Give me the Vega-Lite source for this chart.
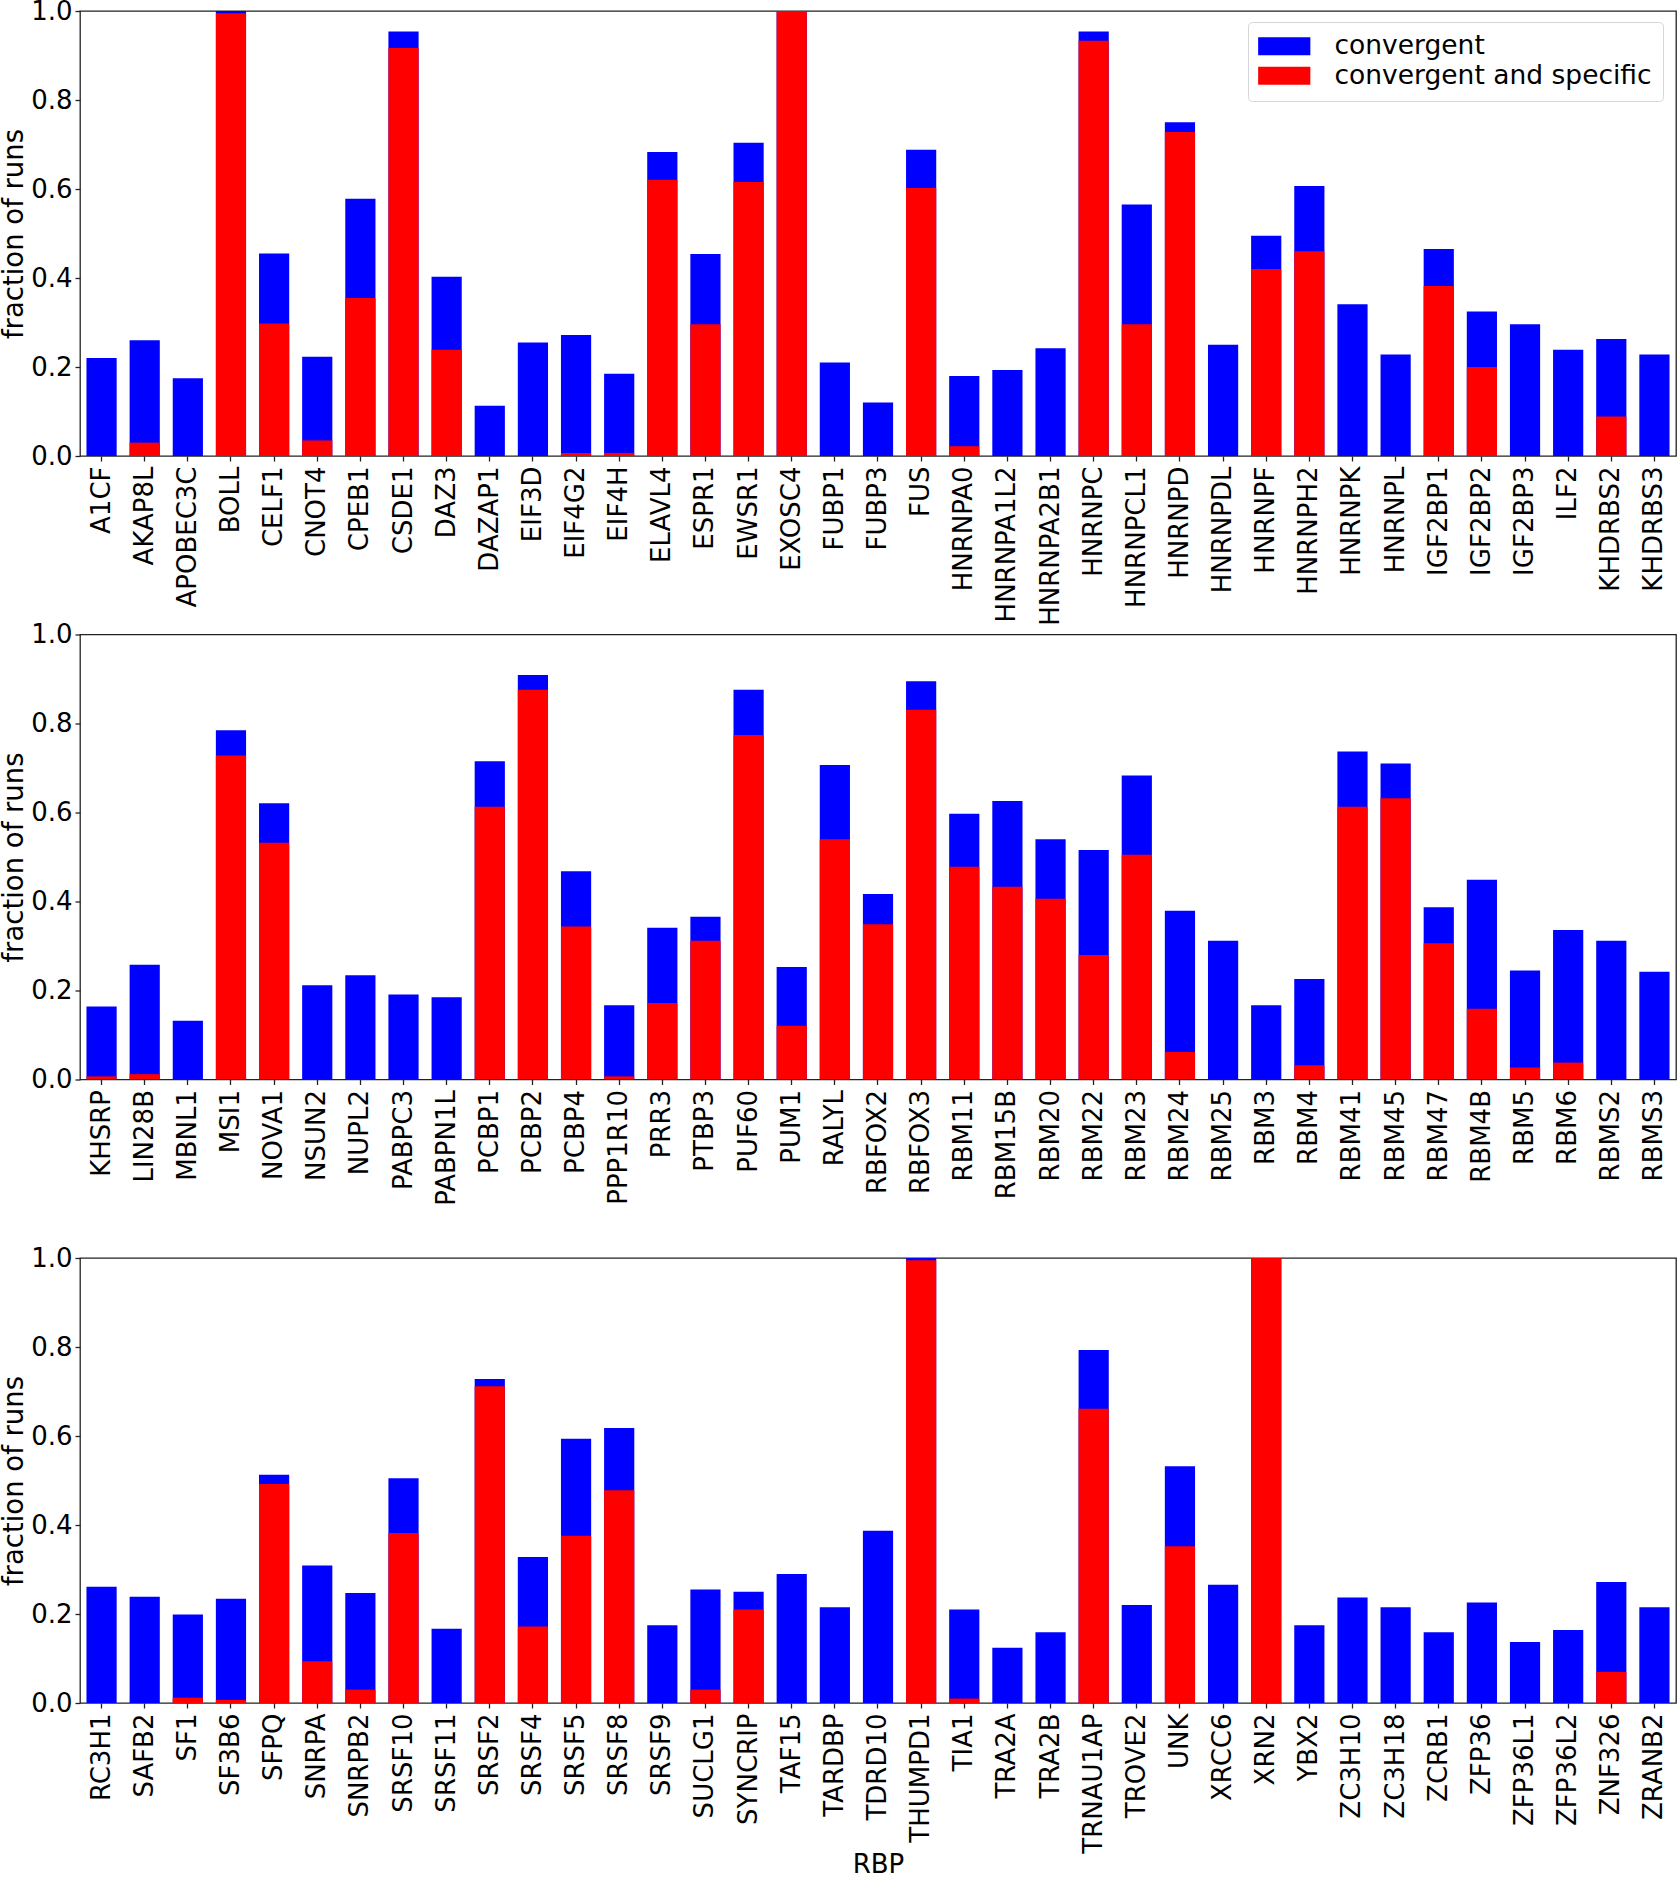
{
  "$schema": "https://vega.github.io/schema/vega-lite/v6.json",
  "padding": {"left": 0, "top": -3, "right": 0, "bottom": 0},
  "background": "white",
  "config": {
    "font": "DejaVu Sans",
    "view": {"stroke": "#222222", "strokeWidth": 1.3},
    "axis": {
      "labelFont": "DejaVu Sans",
      "labelFontSize": 26,
      "labelColor": "black",
      "titleFont": "DejaVu Sans",
      "titleFontSize": 26,
      "titleFontWeight": "normal",
      "titleColor": "black",
      "tickColor": "#222222",
      "tickSize": 5,
      "tickWidth": 1.3,
      "domain": false,
      "grid": false
    },
    "axisY": {"titleFontSize": 27.5, "titlePadding": 2},
    "concat": {"spacing": 178.5}
  },
  "datasets": {
    "p1": [
      {"rbp": "A1CF", "conv": 0.22, "spec": 0},
      {"rbp": "AKAP8L", "conv": 0.26, "spec": 0.03},
      {"rbp": "APOBEC3C", "conv": 0.175, "spec": 0},
      {"rbp": "BOLL", "conv": 1.0, "spec": 0.995},
      {"rbp": "CELF1", "conv": 0.455, "spec": 0.298},
      {"rbp": "CNOT4", "conv": 0.223, "spec": 0.035},
      {"rbp": "CPEB1", "conv": 0.578, "spec": 0.355},
      {"rbp": "CSDE1", "conv": 0.954, "spec": 0.917},
      {"rbp": "DAZ3", "conv": 0.403, "spec": 0.239},
      {"rbp": "DAZAP1", "conv": 0.113, "spec": 0},
      {"rbp": "EIF3D", "conv": 0.255, "spec": 0},
      {"rbp": "EIF4G2", "conv": 0.272, "spec": 0.007},
      {"rbp": "EIF4H", "conv": 0.185, "spec": 0.007},
      {"rbp": "ELAVL4", "conv": 0.683, "spec": 0.621},
      {"rbp": "ESPR1", "conv": 0.454, "spec": 0.296},
      {"rbp": "EWSR1", "conv": 0.704, "spec": 0.616},
      {"rbp": "EXOSC4", "conv": 1.0, "spec": 1.0},
      {"rbp": "FUBP1", "conv": 0.21, "spec": 0},
      {"rbp": "FUBP3", "conv": 0.12, "spec": 0},
      {"rbp": "FUS", "conv": 0.688, "spec": 0.602},
      {"rbp": "HNRNPA0", "conv": 0.18, "spec": 0.022},
      {"rbp": "HNRNPA1L2", "conv": 0.193, "spec": 0},
      {"rbp": "HNRNPA2B1", "conv": 0.242, "spec": 0},
      {"rbp": "HNRNPC", "conv": 0.954, "spec": 0.933},
      {"rbp": "HNRNPCL1", "conv": 0.565, "spec": 0.296},
      {"rbp": "HNRNPD", "conv": 0.75, "spec": 0.728},
      {"rbp": "HNRNPDL", "conv": 0.25, "spec": 0},
      {"rbp": "HNRNPF", "conv": 0.495, "spec": 0.42},
      {"rbp": "HNRNPH2", "conv": 0.607, "spec": 0.46},
      {"rbp": "HNRNPK", "conv": 0.341, "spec": 0},
      {"rbp": "HNRNPL", "conv": 0.228, "spec": 0},
      {"rbp": "IGF2BP1", "conv": 0.465, "spec": 0.382},
      {"rbp": "IGF2BP2", "conv": 0.325, "spec": 0.2},
      {"rbp": "IGF2BP3", "conv": 0.296, "spec": 0},
      {"rbp": "ILF2", "conv": 0.239, "spec": 0},
      {"rbp": "KHDRBS2", "conv": 0.263, "spec": 0.089},
      {"rbp": "KHDRBS3", "conv": 0.228, "spec": 0}
    ],
    "p2": [
      {"rbp": "KHSRP", "conv": 0.164, "spec": 0.007},
      {"rbp": "LIN28B", "conv": 0.258, "spec": 0.012},
      {"rbp": "MBNL1", "conv": 0.132, "spec": 0},
      {"rbp": "MSI1", "conv": 0.785, "spec": 0.728},
      {"rbp": "NOVA1", "conv": 0.621, "spec": 0.532},
      {"rbp": "NSUN2", "conv": 0.212, "spec": 0},
      {"rbp": "NUPL2", "conv": 0.234, "spec": 0},
      {"rbp": "PABPC3", "conv": 0.191, "spec": 0},
      {"rbp": "PABPN1L", "conv": 0.185, "spec": 0},
      {"rbp": "PCBP1", "conv": 0.715, "spec": 0.613},
      {"rbp": "PCBP2", "conv": 0.909, "spec": 0.876},
      {"rbp": "PCBP4", "conv": 0.468, "spec": 0.344},
      {"rbp": "PPP1R10", "conv": 0.167, "spec": 0.007},
      {"rbp": "PRR3", "conv": 0.341, "spec": 0.172},
      {"rbp": "PTBP3", "conv": 0.366, "spec": 0.312},
      {"rbp": "PUF60", "conv": 0.876, "spec": 0.774},
      {"rbp": "PUM1", "conv": 0.253, "spec": 0.121},
      {"rbp": "RALYL", "conv": 0.707, "spec": 0.54},
      {"rbp": "RBFOX2", "conv": 0.417, "spec": 0.349},
      {"rbp": "RBFOX3", "conv": 0.895, "spec": 0.831},
      {"rbp": "RBM11", "conv": 0.597, "spec": 0.478},
      {"rbp": "RBM15B", "conv": 0.626, "spec": 0.433},
      {"rbp": "RBM20", "conv": 0.54, "spec": 0.406},
      {"rbp": "RBM22", "conv": 0.516, "spec": 0.28},
      {"rbp": "RBM23", "conv": 0.683, "spec": 0.505},
      {"rbp": "RBM24", "conv": 0.379, "spec": 0.062},
      {"rbp": "RBM25", "conv": 0.312, "spec": 0},
      {"rbp": "RBM3", "conv": 0.167, "spec": 0},
      {"rbp": "RBM4", "conv": 0.226, "spec": 0.032},
      {"rbp": "RBM41", "conv": 0.737, "spec": 0.613},
      {"rbp": "RBM45", "conv": 0.71, "spec": 0.632},
      {"rbp": "RBM47", "conv": 0.387, "spec": 0.306},
      {"rbp": "RBM4B", "conv": 0.449, "spec": 0.159},
      {"rbp": "RBM5", "conv": 0.245, "spec": 0.027},
      {"rbp": "RBM6", "conv": 0.336, "spec": 0.038},
      {"rbp": "RBMS2", "conv": 0.312, "spec": 0},
      {"rbp": "RBMS3", "conv": 0.242, "spec": 0}
    ],
    "p3": [
      {"rbp": "RC3H1", "conv": 0.261, "spec": 0},
      {"rbp": "SAFB2", "conv": 0.239, "spec": 0},
      {"rbp": "SF1", "conv": 0.199, "spec": 0.012},
      {"rbp": "SF3B6", "conv": 0.234, "spec": 0.007},
      {"rbp": "SFPQ", "conv": 0.513, "spec": 0.492},
      {"rbp": "SNRPA", "conv": 0.309, "spec": 0.094},
      {"rbp": "SNRPB2", "conv": 0.247, "spec": 0.03},
      {"rbp": "SRSF10", "conv": 0.505, "spec": 0.382},
      {"rbp": "SRSF11", "conv": 0.167, "spec": 0},
      {"rbp": "SRSF2", "conv": 0.728, "spec": 0.712},
      {"rbp": "SRSF4", "conv": 0.328, "spec": 0.172},
      {"rbp": "SRSF5", "conv": 0.594, "spec": 0.376},
      {"rbp": "SRSF8", "conv": 0.618, "spec": 0.478},
      {"rbp": "SRSF9", "conv": 0.175, "spec": 0},
      {"rbp": "SUCLG1", "conv": 0.255, "spec": 0.03},
      {"rbp": "SYNCRIP", "conv": 0.25, "spec": 0.21},
      {"rbp": "TAF15", "conv": 0.29, "spec": 0},
      {"rbp": "TARDBP", "conv": 0.215, "spec": 0},
      {"rbp": "TDRD10", "conv": 0.387, "spec": 0},
      {"rbp": "THUMPD1", "conv": 1.0, "spec": 0.995},
      {"rbp": "TIA1", "conv": 0.21, "spec": 0.01},
      {"rbp": "TRA2A", "conv": 0.124, "spec": 0},
      {"rbp": "TRA2B", "conv": 0.159, "spec": 0},
      {"rbp": "TRNAU1AP", "conv": 0.793, "spec": 0.661},
      {"rbp": "TROVE2", "conv": 0.22, "spec": 0},
      {"rbp": "UNK", "conv": 0.532, "spec": 0.352},
      {"rbp": "XRCC6", "conv": 0.266, "spec": 0},
      {"rbp": "XRN2", "conv": 1.0, "spec": 1.0},
      {"rbp": "YBX2", "conv": 0.175, "spec": 0},
      {"rbp": "ZC3H10", "conv": 0.237, "spec": 0},
      {"rbp": "ZC3H18", "conv": 0.215, "spec": 0},
      {"rbp": "ZCRB1", "conv": 0.159, "spec": 0},
      {"rbp": "ZFP36", "conv": 0.226, "spec": 0},
      {"rbp": "ZFP36L1", "conv": 0.137, "spec": 0},
      {"rbp": "ZFP36L2", "conv": 0.164, "spec": 0},
      {"rbp": "ZNF326", "conv": 0.272, "spec": 0.07},
      {"rbp": "ZRANB2", "conv": 0.215, "spec": 0}
    ]
  },
  "vconcat": [
    {
      "width": 1596,
      "height": 445,
      "data": {"name": "p1"},
      "transform": [{"fold": ["conv", "spec"], "as": ["series", "value"]}],
      "mark": {"type": "bar", "stroke": null},
      "encoding": {
        "x": {
          "field": "rbp",
          "type": "nominal",
          "sort": null,
          "scale": {"paddingInner": 0.3, "paddingOuter": 0.15},
          "axis": {"title": null, "labelAngle": 270, "labelPadding": 5}
        },
        "y": {
          "field": "value",
          "type": "quantitative",
          "stack": null,
          "scale": {"domain": [0, 1], "nice": false},
          "axis": {"title": "fraction of runs", "values": [0, 0.2, 0.4, 0.6, 0.8, 1.0], "format": ".1f", "labelPadding": 3}
        },
        "color": {
          "field": "series",
          "type": "nominal",
          "scale": {"domain": ["conv", "spec"], "range": ["#0000ff", "#ff0000"]},
          "legend": {
            "title": null,
            "orient": "none",
            "legendX": 1168,
            "legendY": 11,
            "labelExpr": "datum.label == 'conv' ? 'convergent' : 'convergent and specific'",
            "labelFont": "DejaVu Sans",
            "labelFontSize": 26.5,
            "labelColor": "black",
            "labelLimit": 0,
            "symbolType": "M-2.9,-1H2.9V1H-2.9Z",
            "symbolSize": 324,
            "symbolStrokeWidth": 0,
            "symbolOffset": 12,
            "labelOffset": 37,
            "rowPadding": 2.5,
            "padding": 11,
            "fillColor": "rgba(255,255,255,0.8)",
            "strokeColor": "#d6d6d6",
            "cornerRadius": 4
          }
        }
      }
    },
    {
      "width": 1596,
      "height": 445,
      "data": {"name": "p2"},
      "transform": [{"fold": ["conv", "spec"], "as": ["series", "value"]}],
      "mark": {"type": "bar", "stroke": null},
      "encoding": {
        "x": {
          "field": "rbp",
          "type": "nominal",
          "sort": null,
          "scale": {"paddingInner": 0.3, "paddingOuter": 0.15},
          "axis": {"title": null, "labelAngle": 270, "labelPadding": 5}
        },
        "y": {
          "field": "value",
          "type": "quantitative",
          "stack": null,
          "scale": {"domain": [0, 1], "nice": false},
          "axis": {"title": "fraction of runs", "values": [0, 0.2, 0.4, 0.6, 0.8, 1.0], "format": ".1f", "labelPadding": 3}
        },
        "color": {
          "field": "series",
          "type": "nominal",
          "scale": {"domain": ["conv", "spec"], "range": ["#0000ff", "#ff0000"]},
          "legend": null
        }
      }
    },
    {
      "width": 1596,
      "height": 445,
      "data": {"name": "p3"},
      "transform": [{"fold": ["conv", "spec"], "as": ["series", "value"]}],
      "mark": {"type": "bar", "stroke": null},
      "encoding": {
        "x": {
          "field": "rbp",
          "type": "nominal",
          "sort": null,
          "scale": {"paddingInner": 0.3, "paddingOuter": 0.15},
          "axis": {"title": "RBP", "labelAngle": 270, "labelPadding": 5, "titlePadding": -2}
        },
        "y": {
          "field": "value",
          "type": "quantitative",
          "stack": null,
          "scale": {"domain": [0, 1], "nice": false},
          "axis": {"title": "fraction of runs", "values": [0, 0.2, 0.4, 0.6, 0.8, 1.0], "format": ".1f", "labelPadding": 3}
        },
        "color": {
          "field": "series",
          "type": "nominal",
          "scale": {"domain": ["conv", "spec"], "range": ["#0000ff", "#ff0000"]},
          "legend": null
        }
      }
    }
  ],
  "resolve": {"legend": {"color": "independent"}, "scale": {"x": "independent"}},
  "bounds": "flush"
}
